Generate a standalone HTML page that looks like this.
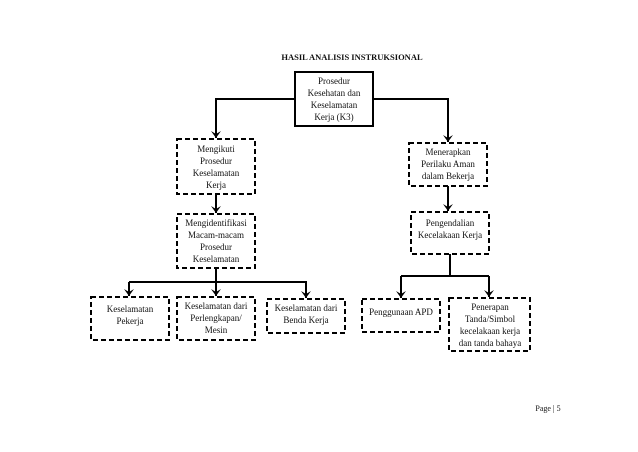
<!DOCTYPE html>
<html><head><meta charset="utf-8"><style>
html,body{margin:0;padding:0;background:#fff;}
svg{display:block;}
text{font-family:"Liberation Serif",serif;font-size:9px;fill:#111;text-anchor:middle;}
.b{fill:none;stroke:#000;stroke-width:2;stroke-dasharray:5,3;}
.l{fill:none;stroke:#000;stroke-width:2;}
</style></head><body>
<svg width="638" height="452" viewBox="0 0 638 452">
<defs><marker id="a" markerWidth="8" markerHeight="8" refX="4" refY="6" orient="auto" markerUnits="userSpaceOnUse"><path d="M0,0 L4,7 L8,0 L4,3 Z" fill="#000" transform="rotate(-90 4 4) translate(0,0)"/></marker>
<marker id="d" markerWidth="10" markerHeight="10" refX="5" refY="9" orient="0" markerUnits="userSpaceOnUse"><path d="M0,2 L5,9 L10,2 L5,5 Z" fill="#000"/></marker></defs>
<text x="352" y="60" style="font-weight:bold;font-size:8.5px">HASIL ANALISIS INSTRUKSIONAL</text>
<rect x="295" y="72" width="78" height="54" class="l"/>
<text x="334" y="84">Prosedur</text><text x="334" y="96">Kesehatan dan</text><text x="334" y="108">Keselamatan</text><text x="334" y="120">Kerja (K3)</text>
<path d="M295,99 H216 V138" class="l" marker-end="url(#d)"/>
<path d="M373,99 H448 V142" class="l" marker-end="url(#d)"/>
<rect x="177" y="139" width="78" height="55" class="b"/>
<text x="216" y="152">Mengikuti</text><text x="216" y="164">Prosedur</text><text x="216" y="176">Keselamatan</text><text x="216" y="188">Kerja</text>
<path d="M216,194 V213" class="l" marker-end="url(#d)"/>
<rect x="177" y="214" width="78" height="54" class="b"/>
<text x="216" y="226">Mengidentifikasi</text><text x="216" y="238">Macam-macam</text><text x="216" y="250">Prosedur</text><text x="216" y="262">Keselamatan</text>
<rect x="409" y="143" width="78" height="43" class="b"/>
<text x="448" y="155">Menerapkan</text><text x="448" y="167">Perilaku Aman</text><text x="448" y="179">dalam Bekerja</text>
<path d="M448,186 V211" class="l" marker-end="url(#d)"/>
<rect x="411" y="212" width="78" height="42" class="b"/>
<text x="450" y="226">Pengendalian</text><text x="450" y="238">Kecelakaan Kerja</text>
<path d="M216,268 V282" class="l"/>
<path d="M129,282 H307" class="l"/>
<path d="M129,282 V296" class="l" marker-end="url(#d)"/>
<path d="M216,282 V296" class="l" marker-end="url(#d)"/>
<path d="M306,282 V298" class="l" marker-end="url(#d)"/>
<rect x="91" y="297" width="78" height="43" class="b"/>
<text x="130" y="312">Keselamatan</text><text x="130" y="324">Pekerja</text>
<rect x="177" y="297" width="78" height="43" class="b"/>
<text x="216" y="309">Keselamatan dari</text><text x="216" y="321">Perlengkapan/</text><text x="216" y="333">Mesin</text>
<rect x="267" y="299" width="78" height="34" class="b"/>
<text x="306" y="311">Keselamatan dari</text><text x="306" y="323">Benda Kerja</text>
<path d="M450,254 V276 M401,276 H489" class="l"/>
<path d="M401,276 V298" class="l" marker-end="url(#d)"/>
<path d="M489,276 V297" class="l" marker-end="url(#d)"/>
<rect x="362" y="299" width="78" height="33" class="b"/>
<text x="401" y="315">Penggunaan APD</text>
<rect x="449" y="298" width="81" height="53" class="b"/>
<text x="490" y="310">Penerapan</text><text x="490" y="322">Tanda/Simbol</text><text x="490" y="334">kecelakaan kerja</text><text x="490" y="346">dan tanda bahaya</text>
<text x="548" y="411" style="font-size:8px">Page | 5</text>
</svg>
</body></html>
